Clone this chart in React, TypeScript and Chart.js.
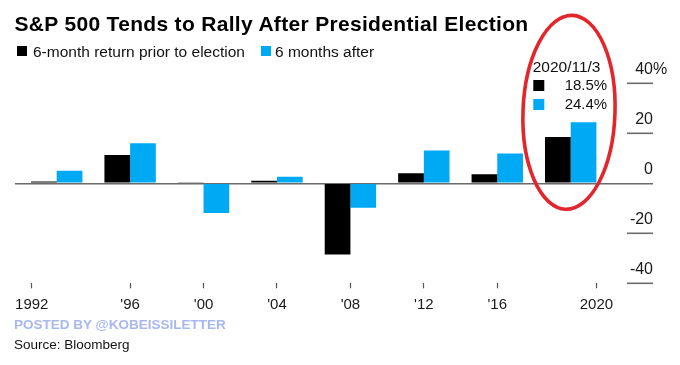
import React, { useEffect, useRef } from 'react';
import { Chart, registerables } from 'chart.js';

Chart.register(...registerables);

// ---- data ----
const categories = ['1992', '1996', '2000', '2004', '2008', '2012', '2016', '2020'];
const priorReturn = [0.7, 11.3, 0.4, 1.0, -28.5, 4.0, 3.6, 18.5];
const afterReturn = [5.0, 16.0, -11.9, 2.6, -9.8, 13.1, 11.9, 24.4];
const tickLabels = ['1992', "'96", "'00", "'04", "'08", "'12", "'16", '2020'];
const tickPositions = [-0.34, 1, 2, 3, 4, 5, 6, 7.35];
const yTicks = [-40, -20, 0, 20, 40];
const seriesNames = ['6-month return prior to election', '6 months after'];
const annotationDate = '2020/11/3';

const TITLE = 'S&P 500 Tends to Rally After Presidential Election';
const POSTED = 'POSTED BY @KOBEISSILETTER';
const SOURCE = 'Source: Bloomberg';

const BLACK = '#000000';
const BLUE = '#00a9f4';
const GRID = '#6b6b6b';
const TEXT = '#1a1a1a';
const RED = '#e3262c';
const FONT = '"Liberation Sans", Arial, sans-serif';

const annotationPlugin = {
  id: 'bbgAnnotations',
  afterDraw(chart: any) {
    const { ctx, chartArea } = chart;
    const x = chart.scales.x;
    const y = chart.scales.y;
    ctx.save();
    // short grid segments under the right-hand labels
    ctx.strokeStyle = GRID;
    ctx.lineWidth = 1.6;
    y.ticks.forEach((t: any) => {
      if (t.value !== 0) {
        const py = y.getPixelForValue(t.value);
        ctx.beginPath();
        ctx.moveTo(chartArea.right - 26, py);
        ctx.lineTo(chartArea.right, py);
        ctx.stroke();
      }
    });
    // percent sign after the top label
    ctx.fillStyle = TEXT;
    ctx.font = `16px ${FONT}`;
    ctx.textAlign = 'left';
    ctx.textBaseline = 'middle';
    ctx.fillText('%', chartArea.right, y.getPixelForValue(yTicks[yTicks.length - 1]) - 14);

    // 2020 annotation box
    const last = categories.length - 1;
    const cx = x.getPixelForValue(last);
    const top = y.getPixelForValue(yTicks[yTicks.length - 1]);
    ctx.textBaseline = 'alphabetic';
    ctx.font = `15.5px ${FONT}`;
    ctx.textAlign = 'left';
    ctx.fillStyle = '#111';
    ctx.fillText(annotationDate, cx - 38, top - 11.6);
    ctx.fillStyle = BLACK;
    ctx.fillRect(cx - 37.4, top - 3.3, 11, 11);
    ctx.fillStyle = BLUE;
    ctx.fillRect(cx - 37.4, top + 15.7, 11, 11);
    ctx.font = `15px ${FONT}`;
    ctx.textAlign = 'right';
    ctx.fillStyle = '#111';
    ctx.fillText(priorReturn[last].toFixed(1) + '%', cx + 36.5, top + 7);
    ctx.fillText(afterReturn[last].toFixed(1) + '%', cx + 36.5, top + 26);

    // red highlight ellipse
    ctx.strokeStyle = RED;
    ctx.lineWidth = 3.6;
    ctx.beginPath();
    ctx.ellipse(cx - 1.7, y.getPixelForValue(28.4), 46, 97, 0.035, 0, Math.PI * 2);
    ctx.stroke();
    ctx.restore();
  },
};

function ChartCanvas() {
  const ref = useRef<HTMLCanvasElement | null>(null);
  useEffect(() => {
    if (!ref.current) return;
    Chart.defaults.font.family = FONT;
    const chart = new Chart(ref.current, {
      type: 'bar',
      data: {
        datasets: [
          {
            label: seriesNames[0],
            data: priorReturn.map((v, i) => ({ x: i, y: v })),
            backgroundColor: BLACK,
            borderWidth: 0,
            categoryPercentage: 0.7,
            barPercentage: 1,
          },
          {
            label: seriesNames[1],
            data: afterReturn.map((v, i) => ({ x: i, y: v })),
            backgroundColor: BLUE,
            borderWidth: 0,
            categoryPercentage: 0.7,
            barPercentage: 1,
          },
        ],
      },
      options: {
        animation: false,
        responsive: false,
        maintainAspectRatio: false,
        layout: { padding: { left: 15, right: 27, top: 83.3, bottom: 42.7 } },
        plugins: {
          legend: { display: false },
          tooltip: { enabled: false },
          title: { display: false },
        },
        scales: {
          x: {
            type: 'linear',
            min: -0.568,
            max: 8.121,
            offset: false,
            afterBuildTicks: (axis: any) => {
              axis.ticks = tickPositions.map((v) => ({ value: v }));
            },
            ticks: {
              callback: (_v: any, i: number) => tickLabels[i],
              font: { size: 15 },
              color: TEXT,
              padding: 8,
              maxRotation: 0,
              autoSkip: false,
            },
            grid: {
              offset: false,
              drawOnChartArea: false,
              drawTicks: true,
              tickLength: 5,
              tickColor: '#555',
              tickWidth: 1.2,
            },
            border: { display: false },
          },
          y: {
            position: 'right',
            min: -40,
            max: 40,
            afterBuildTicks: (axis: any) => {
              axis.ticks = yTicks.map((v) => ({ value: v }));
            },
            ticks: {
              mirror: true,
              padding: 0,
              labelOffset: -14,
              font: { size: 16 },
              color: TEXT,
              callback: (v: any) => String(v),
            },
            grid: {
              drawTicks: false,
              color: (c: any) => (c.tick && c.tick.value === 0 ? GRID : 'rgba(0,0,0,0)'),
              lineWidth: 1.6,
            },
            border: { display: false },
          },
        },
      } as any,
      plugins: [annotationPlugin],
    });
    return () => chart.destroy();
  }, []);
  return (
    <canvas
      ref={ref}
      width={680}
      height={365}
      style={{ position: 'absolute', left: 0, top: 0, display: 'block' }}
    />
  );
}

export default function App() {
  const txt = (extra: React.CSSProperties): React.CSSProperties => ({
    position: 'absolute',
    whiteSpace: 'nowrap',
    fontFamily: FONT,
    ...extra,
  });
  return (
    <div
      style={{
        position: 'absolute',
        left: 0,
        top: 0,
        width: 680,
        height: 365,
        background: '#ffffff',
        overflow: 'hidden',
      }}
    >
      <ChartCanvas />
      <div
        style={txt({
          left: 14.5,
          top: 13.2,
          fontSize: 21,
          lineHeight: '21px',
          fontWeight: 700,
          letterSpacing: '0.32px',
          color: '#000',
        })}
      >
        {TITLE}
      </div>
      <span style={{ position: 'absolute', left: 16.7, top: 46, width: 10, height: 10, background: BLACK }} />
      <div style={txt({ left: 33, top: 44, fontSize: 15.5, lineHeight: '15.5px', color: '#111' })}>
        {seriesNames[0]}
      </div>
      <span style={{ position: 'absolute', left: 261, top: 46, width: 10, height: 10, background: BLUE }} />
      <div style={txt({ left: 275, top: 44, fontSize: 15.5, lineHeight: '15.5px', color: '#111' })}>
        {seriesNames[1]}
      </div>
      <div
        style={txt({
          left: 14,
          top: 318.2,
          fontSize: 13.5,
          lineHeight: '13.5px',
          fontWeight: 700,
          color: '#a8b8ee',
        })}
      >
        {POSTED}
      </div>
      <div style={txt({ left: 14, top: 338.2, fontSize: 13.5, lineHeight: '13.5px', color: '#111' })}>
        {SOURCE}
      </div>
    </div>
  );
}
